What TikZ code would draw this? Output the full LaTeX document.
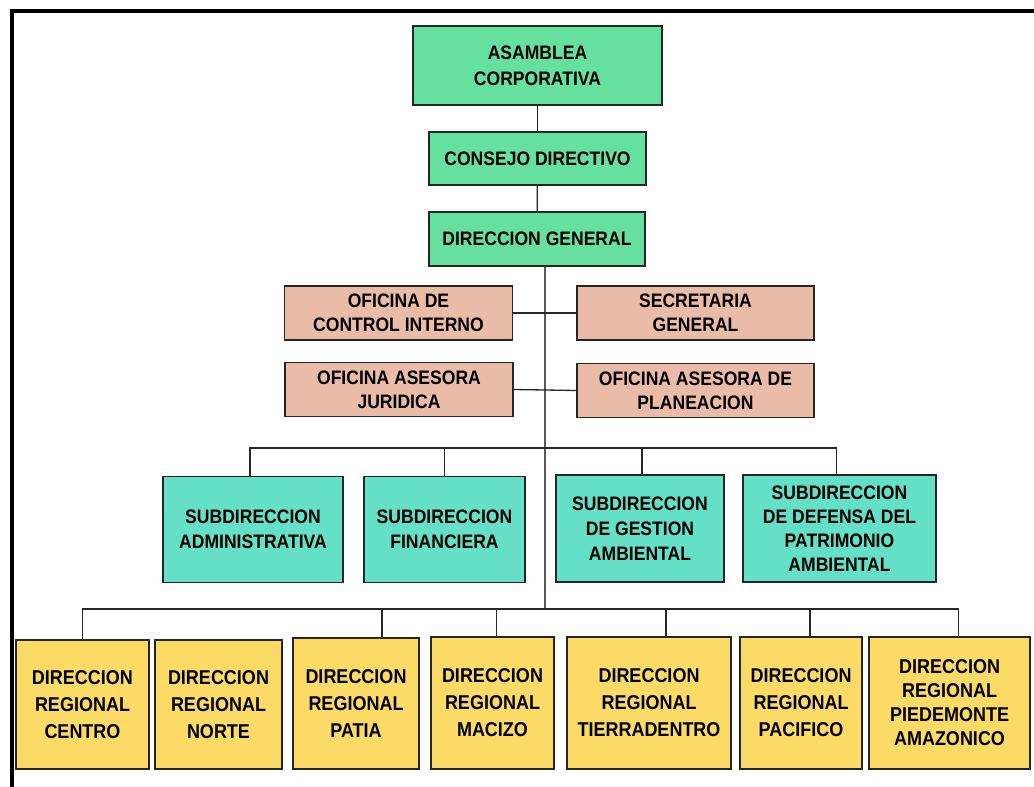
\documentclass[tikz,border=0pt]{standalone}
\usepackage{fontspec}
\setmainfont{Liberation Sans}
\newfontfamily\chartfont[FakeStretch=0.9]{Liberation Sans}
\usepackage{tikz}

\definecolor{junta}{RGB}{102,224,158}
\definecolor{subgreen}{RGB}{100,224,198}
\definecolor{staffpink}{RGB}{234,188,168}
\definecolor{regyellow}{RGB}{252,218,102}

\begin{document}
\begin{tikzpicture}[%
		x=1pt,y=-1pt,
		box/.style={%
			draw=black!85,%
			line width=1.4pt,%
			inner sep=0pt,%
			align=center,%
			font=\chartfont\bfseries\fontsize{19.5}{26}\selectfont},
		board/.style={box,fill=junta},%
		staff/.style={box,fill=staffpink,minimum width=228pt,minimum height=54pt,%
			font=\chartfont\bfseries\fontsize{19.5}{24}\selectfont},%
		subdir/.style={box,fill=subgreen,minimum height=106pt,%
			font=\chartfont\bfseries\fontsize{19.5}{25}\selectfont},%
		regional/.style={box,fill=regyellow,minimum height=131pt,%
			font=\chartfont\bfseries\fontsize{20}{27}\selectfont},%
		link/.style={line width=1.3pt,black!85},%
		trunk/.style={line width=1.8pt,black!65}
		]

		\fill[white] (0,0) rectangle (1034,787);
		\useasboundingbox (0,0) rectangle (1034,787);
		% frame
		\draw[line width=4pt] (12,787) -- (12,11) -- (1034,11);

		% top bodies
		\node[board,minimum width=249pt,minimum height=79pt] (asamblea) at (537.5,65.5) {ASAMBLEA\\CORPORATIVA};
		\node[board,minimum width=217pt,minimum height=53pt] (consejo) at (537.5,158.5) {CONSEJO DIRECTIVO};
		\node[board,minimum width=216pt,minimum height=54pt] (general) at (537,239) {DIRECCION GENERAL};
		% staff offices
		\node[staff] (control) at (398.5,313) {OFICINA DE\\CONTROL INTERNO};
		\node[staff,minimum width=237pt] (secretaria) at (695.5,313) {SECRETARIA\\GENERAL};
		\node[staff] (juridica) at (399,389.5) {OFICINA ASESORA\\JURIDICA};
		\node[staff,minimum width=237pt] (planeacion) at (695.5,390.5) {OFICINA ASESORA DE\\PLANEACION};
		% subdirecciones
		\node[subdir,minimum width=180pt] (admin) at (253,529.5) {SUBDIRECCION\\ADMINISTRATIVA};
		\node[subdir,minimum width=161pt] (financiera) at (444.5,529.5) {SUBDIRECCION\\FINANCIERA};
		\node[subdir,minimum width=168pt,minimum height=107pt] (gestion) at (640,528.5) {SUBDIRECCION\\DE GESTION\\AMBIENTAL};
		\node[subdir,minimum width=193pt,minimum height=107pt,font=\chartfont\bfseries\fontsize{19.5}{24}\selectfont] (defensa) at (839.5,528.5) {SUBDIRECCION\\DE DEFENSA DEL\\PATRIMONIO\\AMBIENTAL};
		% direcciones regionales
		\node[regional,minimum width=133pt,minimum height=129pt] (centro) at (82.5,704.5) {DIRECCION\\REGIONAL\\CENTRO};
		\node[regional,minimum width=127pt,minimum height=129pt] (norte) at (218.5,704.5) {DIRECCION\\REGIONAL\\NORTE};
		\node[regional,minimum width=126pt] (patia) at (356,703.5) {DIRECCION\\REGIONAL\\PATIA};
		\node[regional,minimum width=123pt,minimum height=132pt] (macizo) at (492.5,703) {DIRECCION\\REGIONAL\\MACIZO};
		\node[regional,minimum width=164pt,minimum height=132pt] (tierradentro) at (649,703) {DIRECCION\\REGIONAL\\TIERRADENTRO};
		\node[regional,minimum width=122pt,minimum height=132pt] (pacifico) at (801,703) {DIRECCION\\REGIONAL\\PACIFICO};
		\node[regional,minimum width=161pt,minimum height=132pt,font=\chartfont\bfseries\fontsize{20}{24}\selectfont] (piedemonte) at (949.5,703) {DIRECCION\\REGIONAL\\PIEDEMONTE\\AMAZONICO};

		% upper chain
		\coordinate (subbus) at (545,448);
		\coordinate (regbus) at (545,609);
		\draw[link] (asamblea) -- (consejo);
		\draw[link] (consejo) -- (general);
		\draw[trunk] (general.south -| regbus) -- (regbus);
		% staff links
		\draw[link] (control) -- (secretaria);
		\draw[link] (juridica.east) -- (planeacion.west);
		% subdirecciones bus
		\draw[link] ([xshift=-3pt]admin.north) |- (subbus) -| ([xshift=-3pt]defensa.north);
		\draw[link] (financiera.north) |- (subbus);
		\draw[link] ([xshift=2pt]gestion.north) |- (subbus);
		% regional bus
		\draw[link] (centro.north) |- (regbus) -| ([xshift=9pt]piedemonte.north);
		\draw[link] ([xshift=26pt]patia.north) |- (regbus);
		\draw[link] ([xshift=4pt]macizo.north) |- (regbus);
		\draw[link] ([xshift=17pt]tierradentro.north) |- (regbus);
		\draw[link] ([xshift=9pt]pacifico.north) |- (regbus);
	\end{tikzpicture}
\end{document}
